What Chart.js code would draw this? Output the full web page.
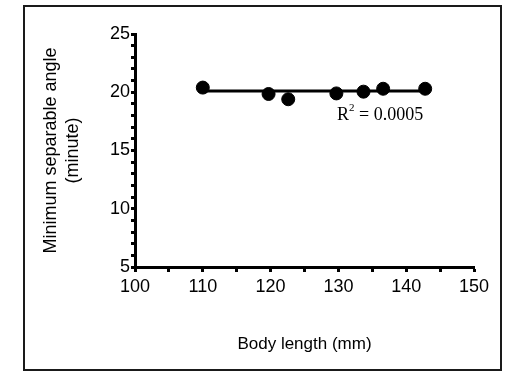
<!DOCTYPE html>
<html>
<head>
<meta charset="utf-8">
<script src="https://cdn.jsdelivr.net/npm/chart.js@4"></script>
<style>
  html, body { margin: 0; padding: 0; background: #fff; }
  canvas { display: block; }
</style>
</head>
<body>
<canvas id="chart" width="506" height="375"></canvas>
<script>
const bodyLength = [110, 119.7, 122.6, 129.7, 133.7, 136.6, 142.8];
const minAngle = [20.4, 19.85, 19.4, 19.9, 20.05, 20.3, 20.3];

const trendX = [110, 142.8];
const trendY = [20.1, 20.1];

const xTickLabels = [100, 110, 120, 130, 140, 150];
const yTickLabels = [5, 10, 15, 20, 25];

const rSquaredText = "0.0005";

const points = bodyLength.map((x, i) => ({ x: x, y: minAngle[i] }));
const trend = trendX.map((x, i) => ({ x: x, y: trendY[i] }));

const sans = "'Liberation Sans', Arial, sans-serif";

const frame = {
  id: "frame",
  afterDraw(chart) {
    const ctx = chart.ctx;
    ctx.save();
    ctx.strokeStyle = "#1a1a1a";
    ctx.lineWidth = 2;
    ctx.strokeRect(24, 6, 477, 364);

    // R² label
    const xs = chart.scales.x;
    const ys = chart.scales.y;
    let px = xs.getPixelForValue(129.8);
    const py = ys.getPixelForValue(18.05);
    ctx.fillStyle = "#000";
    ctx.textBaseline = "middle";
    ctx.textAlign = "left";
    ctx.font = "18px 'Liberation Serif', serif";
    ctx.fillText("R", px, py);
    px += ctx.measureText("R").width;
    ctx.font = "11px 'Liberation Serif', serif";
    ctx.fillText("2", px, py - 7);
    px += ctx.measureText("2").width;
    ctx.font = "18px 'Liberation Serif', serif";
    ctx.fillText(" = " + rSquaredText, px, py);
    ctx.restore();
  },
};

new Chart(document.getElementById("chart"), {
  type: "scatter",
  data: {
    datasets: [
      {
        label: "Data",
        data: points,
        backgroundColor: "#000",
        borderColor: "#000",
        pointRadius: 6.5,
        pointHoverRadius: 6.5,
        order: 0,
      },
      {
        type: "line",
        label: "Trend",
        data: trend,
        borderColor: "#000",
        borderWidth: 3,
        pointRadius: 0,
        fill: false,
        order: 1,
      },
    ],
  },
  options: {
    responsive: false,
    animation: false,
    events: [],
    layout: {
      padding: { left: 0, top: 34, right: 32, bottom: 0 },
    },
    scales: {
      x: {
        type: "linear",
        min: 100,
        max: 150,
        afterFit: (scale) => {
          scale.height = 108;
        },
        ticks: {
          stepSize: 5,
          autoSkip: false,
          maxRotation: 0,
          padding: 4,
          color: "#000",
          font: { family: sans, size: 18 },
          callback: (v) => (xTickLabels.includes(v) ? v : ""),
        },
        grid: {
          drawOnChartArea: false,
          drawTicks: true,
          tickLength: 5,
          tickWidth: 3,
          color: "#000",
        },
        border: { color: "#000", width: 3 },
        title: {
          display: true,
          text: "Body length (mm)",
          color: "#000",
          font: { family: sans, size: 17 },
          padding: { top: 0, bottom: 20 },
        },
      },
      y: {
        type: "linear",
        min: 5,
        max: 25,
        afterFit: (scale) => {
          scale.width = 135;
        },
        ticks: {
          stepSize: 1,
          autoSkip: false,
          padding: 1,
          color: "#000",
          font: { family: sans, size: 18 },
          callback: (v) => (yTickLabels.includes(v) ? v : ""),
        },
        grid: {
          drawOnChartArea: false,
          drawTicks: true,
          tickLength: 4,
          tickWidth: 3,
          color: "#000",
        },
        border: { color: "#000", width: 3 },
        title: {
          display: true,
          text: ["Minimum separable angle", "(minute)"],
          color: "#000",
          font: { family: sans, size: 18, lineHeight: 1.17 },
          padding: { top: 41, bottom: 0 },
        },
      },
    },
    plugins: {
      legend: { display: false },
      tooltip: { enabled: false },
    },
  },
  plugins: [frame],
});
</script>
</body>
</html>
